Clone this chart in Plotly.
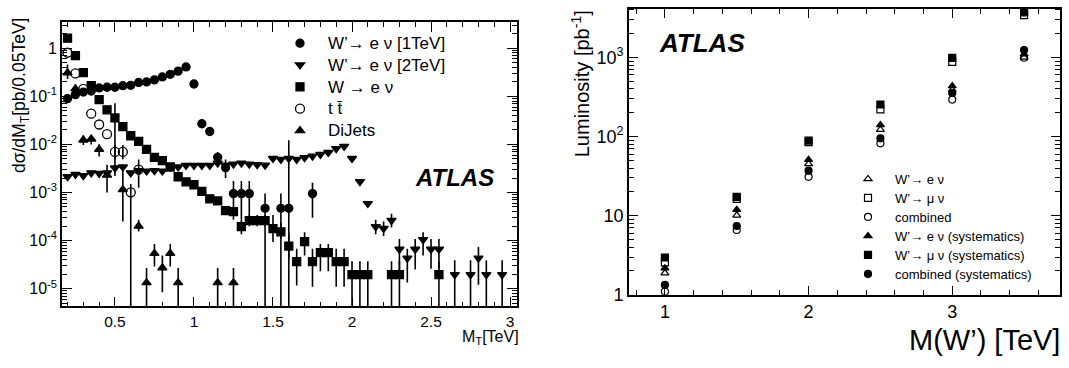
import plotly.graph_objects as go

W, H = 1069, 368
FONT = "Liberation Sans, Arial, sans-serif"

# ---------------- left panel data (M_T in TeV, dsigma/dM_T in pb/0.05TeV) ----------------
wp1_x = [0.20, 0.25, 0.30, 0.35, 0.40, 0.45, 0.50, 0.55, 0.60, 0.65, 0.70, 0.75, 0.80, 0.85,
         0.90, 0.95, 1.00, 1.05, 1.10, 1.15, 1.20, 1.25, 1.30, 1.35, 1.45, 1.55, 1.60, 1.75]
wp1_y = [0.090, 0.109, 0.123, 0.129, 0.150, 0.155, 0.155, 0.167, 0.170, 0.195, 0.200, 0.221, 0.254, 0.288,
         0.336, 0.410, 0.181, 0.027, 0.0186, 0.0054, 0.0033, 0.00095, 0.00095, 0.00095, 0.00047, 0.00047,
         0.00047, 0.00095]
wp1_hi = [None] * 19 + [0.0070, 0.00484, 0.00174, 0.00174, 0.00174, 0.00095, 0.00095, 0.0123, 0.00159]
wp1_lo = [None] * 19 + [0.00385, 0.0020, 0.00027, 0.00027, 0.00027, 0.0, 0.0, 0.0, 0.0003]

wp2_x = [0.20, 0.25, 0.30, 0.35, 0.40, 0.45, 0.50, 0.55, 0.60, 0.65, 0.70, 0.75, 0.80, 0.85, 0.90,
         0.95, 1.00, 1.05, 1.10, 1.15, 1.20, 1.25, 1.30, 1.35, 1.40, 1.45, 1.50, 1.55, 1.60, 1.65,
         1.70, 1.75, 1.80, 1.85, 1.90, 1.95, 2.00, 2.05, 2.10, 2.15, 2.20, 2.25, 2.30, 2.35, 2.40,
         2.45, 2.50, 2.55, 2.65, 2.75, 2.80, 2.85, 2.95]
wp2_y = [0.00213, 0.00238, 0.00225, 0.00257, 0.0025, 0.00257, 0.00324, 0.0034, 0.00257, 0.00286,
         0.0028, 0.00286, 0.0028, 0.0034, 0.0034, 0.00367, 0.00367, 0.00367, 0.00367, 0.0041, 0.0037,
         0.0039, 0.0041, 0.0039, 0.0038, 0.0037, 0.0051, 0.0049, 0.0051, 0.0049, 0.0053, 0.0057,
         0.0062, 0.0068, 0.0082, 0.0091, 0.0051, 0.00169, 0.00059, 1.95e-4, 1.8e-4, 2.64e-4, 6.6e-5,
         4.3e-5, 6.6e-5, 1.05e-4, 6.6e-5, 6.6e-5, 1.96e-5, 1.96e-5, 4.3e-5, 1.96e-5, 1.96e-5]
wp2_hi = [None] * 39 + [2.72e-4, 2.5e-4, 3.6e-4, 1.08e-4, 6.8e-5, 1.08e-4, 1.49e-4, 1.08e-4, 1.08e-4,
                        3.9e-5, 3.9e-5, 7.4e-5, 3.9e-5, 3.9e-5]
wp2_lo = [None] * 39 + [1.36e-4, 1.25e-4, 1.88e-4, 2.1e-5, 1.34e-5, 2.5e-5, 4.9e-5, 2.6e-5, 2.6e-5,
                        0.0, 0.0, 1.2e-5, 0.0, 0.0]

w_x = [0.20, 0.25, 0.30, 0.35, 0.40, 0.45, 0.50, 0.55, 0.60, 0.65, 0.70, 0.75, 0.80, 0.85, 0.90,
       0.95, 1.00, 1.05, 1.10, 1.15, 1.20, 1.25, 1.30, 1.35, 1.40, 1.45, 1.50, 1.55, 1.60, 1.65,
       1.70, 1.75, 1.80, 1.85, 1.90, 1.95, 2.00, 2.05, 2.10, 2.25, 2.30, 2.55]
w_y = [1.63, 0.706, 0.312, 0.168, 0.086, 0.0525, 0.0356, 0.0235, 0.0152, 0.01155, 0.0079, 0.0054,
       0.0046, 0.0034, 0.00213, 0.00167, 0.00145, 0.00106, 0.00074, 0.00067, 0.00042, 0.0004,
       0.000195, 0.00026, 0.00026, 0.00026, 0.000178, 0.000152, 7.7e-5, 3.65e-5, 9.5e-5, 3.65e-5,
       5.6e-5, 5.6e-5, 3.65e-5, 3.65e-5, 1.96e-5, 1.96e-5, 1.96e-5, 1.96e-5, 1.96e-5, 1.96e-5]
w_hi = ([None] * 6 + [0.0716] + [None] * 15 + [2.7e-4, 3.4e-4, 3.4e-4, 3.4e-4, 3.4e-4, 2.37e-4, 1.4e-4,
        6.8e-5, 1.49e-4, 6.8e-5, 8.5e-5, 8.5e-5, 6.8e-5, 6.8e-5, 3.7e-5, 3.7e-5, 3.7e-5, 3.7e-5,
        3.7e-5, 3.7e-5])
w_lo = ([None] * 6 + [0.0022] + [None] * 15 + [1.36e-4, 2.0e-4, 2.0e-4, 2.0e-4, 9.3e-5, 1.08e-4, 4.0e-5,
        1.16e-5, 4.9e-5, 1.1e-5, 2.3e-5, 2.3e-5, 1.1e-5, 1.1e-5, 0.0, 0.0, 0.0, 0.0, 0.0, 0.0])

tt_x = [0.20, 0.25, 0.30, 0.35, 0.40, 0.45, 0.50, 0.55, 0.60, 0.65]
tt_y = [0.81, 0.30, 0.144, 0.0437, 0.026, 0.0164, 0.0070, 0.0070, 0.00101, 0.0030]
tt_hi = [None, None, None, None, None, None, 0.0097, 0.0097, 0.0015, 0.00484]
tt_lo = [None, None, None, None, None, None, 0.0049, 0.0049, 0.0, 0.00126]

dj_x = [0.20, 0.25, 0.30, 0.35, 0.40, 0.45, 0.55, 0.65, 0.70, 0.75, 0.80, 0.85, 0.90, 1.15, 1.25]
dj_y = [0.31, 0.144, 0.0124, 0.013, 0.0079, 0.0023, 0.00115, 0.0002, 1.33e-5, 5.4e-5, 2.7e-5,
        5.4e-5, 1.33e-5, 1.33e-5, 1.33e-5]
dj_hi = [0.46, 0.18, 0.0155, 0.016, 0.0101, 0.0038, 0.0038, 2.7e-4, 2.7e-5, 8.5e-5, 4.9e-5, 8.5e-5,
         2.7e-5, 2.7e-5, 2.7e-5]
dj_lo = [0.23, 0.09, 0.0097, 0.010, 0.0056, 0.0010, 2.5e-4, 1.55e-4, 0.0, 2.9e-5, 8.4e-6, 2.9e-5,
         0.0, 0.0, 0.0]

# ---------------- right panel data (M(W') in TeV, luminosity in pb^-1) ----------------
mass = [1.0, 1.5, 2.0, 2.5, 3.0, 3.5]
lumi_ev = [1.88, 10.1, 45, 122, 390, 1000]
lumi_mv = [2.57, 16.3, 85, 220, 880, 3420]
lumi_comb = [1.1, 6.6, 31, 82, 293, 990]
lumi_ev_sys = [2.17, 11.9, 51, 140, 435, 1100]
lumi_mv_sys = [2.96, 17.3, 89, 254, 985, 3720]
lumi_comb_sys = [1.33, 7.4, 37, 95, 355, 1240]


def errs(y, hi, lo):
    plus = [0 if h is None else h - v for v, h in zip(y, hi)]
    minus = [0 if l is None else v - l for v, l in zip(y, lo)]
    return dict(type="data", symmetric=False, array=plus, arrayminus=minus,
                color="black", thickness=1.6, width=0)


def big(txt, size):
    return '<span style="font-size:%spx">%s</span>' % (size, txt)


fig = go.Figure()

left_series = [
    ("W’→ e ν [1TeV]", wp1_x, wp1_y, wp1_hi, wp1_lo, "circle", 8),
    ("W’→ e ν [2TeV]", wp2_x, wp2_y, wp2_hi, wp2_lo, "triangle-down", 8),
    ("W → e ν", w_x, w_y, w_hi, w_lo, "square", 8),
    ("t t\u0304", tt_x, tt_y, tt_hi, tt_lo, "circle-open", 9),
    ("DiJets", dj_x, dj_y, dj_hi, dj_lo, "triangle-up", 8),
]
for name, xs, ys, hi, lo, sym, sz in left_series:
    fig.add_trace(go.Scatter(
        x=xs, y=ys, mode="markers", name=big(name, 17), xaxis="x", yaxis="y", legend="legend",
        marker=dict(symbol=sym, size=sz, color="black", line=dict(color="black", width=1.3)),
        error_y=errs(ys, hi, lo),
    ))

right_series = [
    ("W’→ e ν", lumi_ev, "triangle-up-open"),
    ("W’→ μ ν", lumi_mv, "square-open"),
    ("combined", lumi_comb, "circle-open"),
    ("W’→ e ν (systematics)", lumi_ev_sys, "triangle-up"),
    ("W’→ μ ν (systematics)", lumi_mv_sys, "square"),
    ("combined (systematics)", lumi_comb_sys, "circle"),
]
for name, ys, sym in right_series:
    fig.add_trace(go.Scatter(
        x=mass, y=ys, mode="markers", name=big(name, 13), xaxis="x2", yaxis="y2", legend="legend2",
        marker=dict(symbol=sym, size=7, color="black", line=dict(color="black", width=1.2)),
    ))


def px_x(p):
    return p / W


def px_y(p):
    return 1 - p / H


minor_log_left = [m * 10 ** e for e in range(-6, 1) for m in range(2, 10)]
minor_log_right = [m * 10 ** e for e in range(0, 4) for m in range(2, 10)]

axis_common = dict(showline=True, linecolor="black", linewidth=1.6, mirror="ticks",
                   ticks="inside", tickcolor="black", tickwidth=1.2, showgrid=False,
                   zeroline=False)

fig.update_layout(
    width=W, height=H,
    margin=dict(l=0, r=0, t=0, b=0),
    paper_bgcolor="white", plot_bgcolor="white",
    font=dict(family=FONT, color="black"),
    xaxis=dict(domain=[px_x(62), px_x(517)], range=[0.165, 3.044], anchor="y",
               tickmode="array", tickvals=[0.5, 1, 1.5, 2, 2.5, 3],
               ticktext=["0.5", "1", "1.5", "2", "2.5", "3"], ticklen=10,
               tickfont=dict(size=15.5),
               minor=dict(tickmode="array",
                          tickvals=[round(0.2 + 0.1 * k, 2) for k in range(29)],
                          ticks="inside", ticklen=5, tickcolor="black"),
               **axis_common),
    yaxis=dict(domain=[px_y(315), px_y(23)], type="log", range=[-5.37, 0.54], anchor="x",
               tickmode="array", tickvals=[1e-5, 1e-4, 1e-3, 1e-2, 1e-1, 1],
               ticktext=["10<sup>-5</sup>", "10<sup>-4</sup>", "10<sup>-3</sup>",
                         "10<sup>-2</sup>", "10<sup>-1</sup>", "1"],
               ticklen=10, tickfont=dict(size=16),
               minor=dict(tickmode="array", tickvals=minor_log_left, ticks="inside",
                          ticklen=5, tickcolor="black"),
               **axis_common),
    xaxis2=dict(domain=[px_x(629), px_x(1060)], range=[0.75, 3.75], anchor="y2",
                tickmode="array", tickvals=[1, 2, 3], ticktext=["1", "2", "3"], ticklen=9,
                tickfont=dict(size=18),
                minor=dict(tickmode="array",
                           tickvals=[round(0.8 + 0.2 * k, 2) for k in range(15)],
                           ticks="inside", ticklen=5, tickcolor="black"),
                **axis_common),
    yaxis2=dict(domain=[px_y(303), px_y(9)], type="log", range=[0, 3.615], anchor="x2",
                tickmode="array", tickvals=[1, 10, 100, 1000],
                ticktext=["1", "10", "10<sup>2</sup>", "10<sup>3</sup>"], ticklen=9,
                tickfont=dict(size=18),
                minor=dict(tickmode="array", tickvals=minor_log_right, ticks="inside",
                           ticklen=5, tickcolor="black"),
                **axis_common),
    legend=dict(x=px_x(272), y=px_y(28), xanchor="left", yanchor="top",
                bgcolor="rgba(0,0,0,0)", font=dict(size=14.5, family=FONT), itemwidth=46,
                tracegroupgap=0),
    legend2=dict(x=px_x(841), y=px_y(169), xanchor="left", yanchor="top",
                 bgcolor="rgba(0,0,0,0)", font=dict(size=11.8, family=FONT), itemwidth=44,
                 tracegroupgap=0),
    showlegend=True,
)

annotations = [
    dict(text="dσ/dM<sub>T</sub>[pb/0.05TeV]", x=px_x(20), y=px_y(17), xanchor="center",
         yanchor="top", textangle=-90, font=dict(size=17.5)),
    dict(text="M<sub>T</sub>[TeV]", x=px_x(521), y=px_y(335), xanchor="right", yanchor="top",
         font=dict(size=16)),
    dict(text="<b><i>ATLAS</i></b>", x=px_x(454), y=px_y(182), xanchor="center",
         yanchor="middle", font=dict(size=24)),
    dict(text="<b><i>ATLAS</i></b>", x=px_x(657), y=px_y(44), xanchor="left",
         yanchor="middle", font=dict(size=26)),
    dict(text="Luminosity [pb<sup>-1</sup>]", x=px_x(580), y=px_y(9), xanchor="center",
         yanchor="top", textangle=-90, font=dict(size=20)),
    dict(text="M(W’) [TeV]", x=px_x(1062), y=px_y(350), xanchor="right", yanchor="middle",
         font=dict(size=29)),
]
for a in annotations:
    a.update(xref="paper", yref="paper", showarrow=False)
fig.update_layout(annotations=annotations)

fig.write_html("out.html")
